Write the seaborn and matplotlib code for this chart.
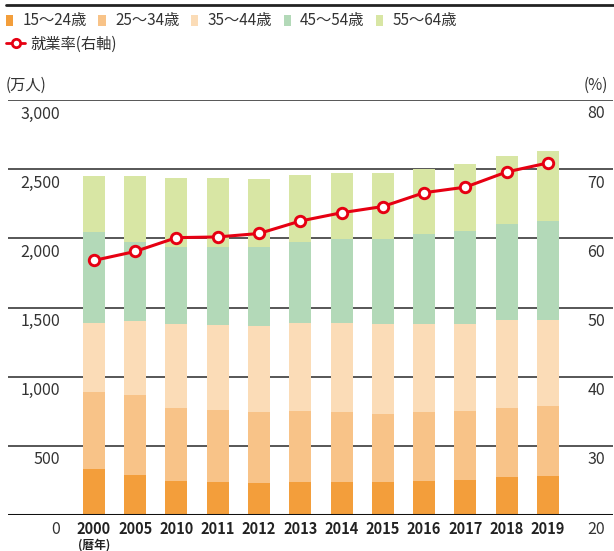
import numpy as np
import pandas as pd
import matplotlib
matplotlib.use('Agg')
import matplotlib.pyplot as plt
import seaborn as sns
from matplotlib.patches import Patch
from matplotlib.lines import Line2D
from matplotlib.transforms import offset_copy

# 女性の年齢階級別就業者数（万人）と就業率（%）
years = ['2000', '2005', '2010', '2011', '2012', '2013', '2014',
         '2015', '2016', '2017', '2018', '2019']
age_15_24 = [333, 289, 246, 239, 231, 239, 239, 239, 246, 253, 275, 282]
age_25_34 = [558, 578, 528, 520, 514, 513, 506, 491, 499, 499, 499, 506]
age_35_44 = [499, 535, 609, 615, 621, 638, 645, 651, 636, 629, 636, 622]
age_45_54 = [658, 571, 554, 563, 571, 583, 605, 614, 650, 672, 694, 715]
age_55_64 = [405, 480, 499, 499, 492, 485, 477, 477, 470, 484, 491, 506]
emp_rate = [56.8, 58.1, 60.1, 60.2, 60.7, 62.5, 63.7, 64.6, 66.6, 67.4, 69.6, 70.9]

labels = ['15～24歳', '25～34歳', '35～44歳', '45～54歳', '55～64歳']
colors = ['#F39E3B', '#F8C388', '#FBDCB7', '#B3D9B8', '#D8E6A4']
line_color = '#E60012'
text_color = '#333333'

left_ticks = [0, 500, 1000, 1500, 2000, 2500, 3000]
right_ticks = [20, 30, 40, 50, 60, 70, 80]

sns.set_theme(style='white')
plt.rcParams['font.family'] = ['Noto Sans CJK JP', 'DejaVu Sans']

df = pd.DataFrame({'pos': np.arange(len(years)), 'year': years,
                   labels[0]: age_15_24, labels[1]: age_25_34,
                   labels[2]: age_35_44, labels[3]: age_45_54,
                   labels[4]: age_55_64, 'rate': emp_rate})
cum = df[labels].cumsum(axis=1)

W, H = 614, 551
fig = plt.figure(figsize=(W / 100, H / 100), dpi=100)
ax = fig.add_axes([8 / W, 1 - 515 / H, 605 / W, 415 / H])

# gridlines under bars
for v in left_ticks[1:]:
    ax.axhline(v, color='#3a3a3a', lw=1.2, zorder=0.5)

# stacked bars: draw cumulative totals from top layer down
for k in range(len(labels) - 1, -1, -1):
    sns.barplot(x=df['pos'], y=cum[labels[k]], native_scale=True,
                color=colors[k], width=0.533, saturation=1,
                edgecolor='none', linewidth=0, ax=ax, zorder=2)

ax.axhline(0, color='#111111', lw=2.2, zorder=3)
ax.set_ylim(0, 3000)
ax.set_xlim(-2.08, 12.575)
ax.set_yticks([])
ax.set_xticks(df['pos'])
ax.set_xticklabels(years, fontweight='bold', fontsize=10.5, color='#222222')
ax.tick_params(axis='x', length=0, pad=4)
ax.set(xlabel='', ylabel='')
for s in ax.spines.values():
    s.set_visible(False)

ax2 = ax.twinx()
sns.lineplot(x=df['pos'], y=df['rate'], ax=ax2, color=line_color, lw=2.2,
             marker='o', markersize=7.5, markerfacecolor='white',
             markeredgecolor=line_color, markeredgewidth=2.1, zorder=5)
ax2.set_ylim(20, 80)
ax2.set_yticks([])
ax2.set(xlabel='', ylabel='')
for s in ax2.spines.values():
    s.set_visible(False)

# tick labels sit just below each gridline
lt = offset_copy(ax.get_yaxis_transform(), fig=fig, y=-14, units='dots')
for v in left_ticks:
    ax.text(0.086, v, f'{v:,}', transform=lt, ha='right', va='center',
            fontsize=11.5, color=text_color)
rt = offset_copy(ax2.get_yaxis_transform(), fig=fig, y=-14, units='dots')
for v in right_ticks:
    ax2.text(0.9868, v, f'{v}', transform=rt, ha='right', va='center',
             fontsize=11.5, color=text_color)

fig.text(6 / W, 1 - 85 / H, '(万人)', ha='left', va='center',
         fontsize=11, color=text_color)
fig.text(608 / W, 1 - 85 / H, '(%)', ha='right', va='center',
         fontsize=11, color=text_color)
fig.text(94 / W, 1 - 545 / H, '(暦年)', ha='center', va='center',
         fontsize=8.5, fontweight='bold', color='#222222')

# top rule
fig.add_artist(Line2D([6 / W, 1], [1 - 5 / H, 1 - 5 / H], color='#222222', lw=2))

handles = [Patch(facecolor=c, edgecolor='none', label=l) for c, l in zip(colors, labels)]
fig.legend(handles=handles, loc='center left', bbox_to_anchor=(6 / W, 1 - 21 / H),
           ncol=5, frameon=False, fontsize=11, handlelength=0.47, handleheight=0.75,
           handletextpad=0.62, columnspacing=0.75, borderpad=0, borderaxespad=0,
           labelcolor=text_color)
rate_handle = Line2D([], [], color=line_color, lw=2, marker='o', markersize=6,
                     markerfacecolor='white', markeredgecolor=line_color,
                     markeredgewidth=2, label='就業率(右軸)')
fig.legend(handles=[rate_handle], loc='center left', bbox_to_anchor=(6 / W, 1 - 44 / H),
           frameon=False, fontsize=11, handlelength=1.25, handletextpad=0.35,
           borderpad=0, borderaxespad=0, labelcolor=text_color)

fig.savefig('out.png', dpi=100)
plt.close(fig)
